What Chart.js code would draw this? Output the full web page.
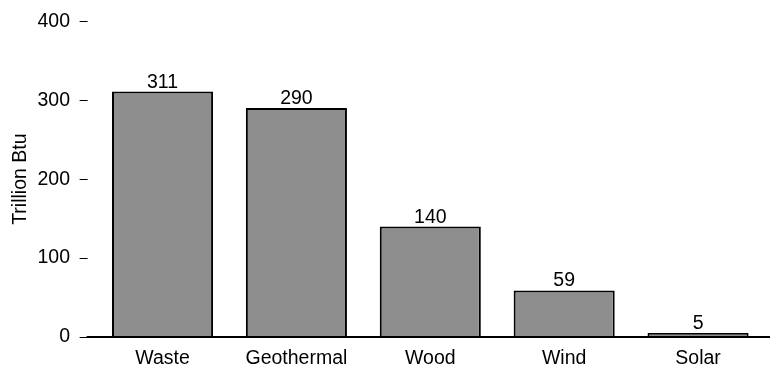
<!DOCTYPE html>
<html>
<head>
<meta charset="utf-8">
<title>Renewable energy by source</title>
<script src="https://cdn.jsdelivr.net/npm/chart.js@4/dist/chart.umd.min.js"></script>
<style>
   html, body { margin: 0; padding: 0; background: #ffffff; }
   #wrap { position: relative; width: 770px; height: 368px; }
</style>
</head>
<body>
<div id="wrap"><canvas id="energyChart"></canvas></div>
<script>
// chart data
var categories = ['Waste', 'Geothermal', 'Wood', 'Wind', 'Solar'];
var values = [311, 290, 140, 59, 5];
var yTicks = [0, 100, 200, 300, 400];
var yTitle = 'Trillion Btu';

var FONT = "'Liberation Sans', Arial, Helvetica, sans-serif";
var FONT_SIZE = 19.5;

/* Writes the value of each bar just above its top edge */
var valueLabels = {
   id: 'valueLabels',
   afterDatasetsDraw: function(chart) {
      var ctx = chart.ctx;
      var meta = chart.getDatasetMeta(0);
      ctx.save();
      ctx.font = FONT_SIZE + 'px ' + FONT;
      ctx.fillStyle = '#000000';
      ctx.textAlign = 'center';
      ctx.textBaseline = 'alphabetic';
      meta.data.forEach(function(bar, i) {
         ctx.fillText(String(values[i]), bar.x, bar.y - 4);
      });
      ctx.restore();
   }
};

/* Baseline at zero, running a bit left of the plot and out to the edge */
var baseLine = {
   id: 'baseLine',
   afterDatasetsDraw: function(chart) {
      var ctx = chart.ctx;
      var y = chart.scales.y.getPixelForValue(0);
      ctx.save();
      ctx.strokeStyle = '#000000';
      ctx.lineWidth = 2;
      ctx.beginPath();
      ctx.moveTo(chart.chartArea.left - 9, y);
      ctx.lineTo(chart.width, y);
      ctx.stroke();
      ctx.restore();
   }
};

var energyChart = new Chart(document.getElementById('energyChart'), {
   type: 'bar',
   data: {
      labels: categories,
      datasets: [{
         data: values,
         backgroundColor: '#8e8e8e',
         borderColor: '#000000',
         borderWidth: 2,
         borderSkipped: 'start',
         barPercentage: 0.755,
         categoryPercentage: 1
      }]
   },
   options: {
      responsive: true,
      maintainAspectRatio: false,
      animation: false,
      layout: { padding: { top: 19, right: 5, left: 0, bottom: 0 } },
      plugins: {
         legend: { display: false },
         tooltip: { enabled: false }
      },
      scales: {
         x: {
            grid: { display: false, drawTicks: false },
            border: { display: false },
            ticks: {
               color: '#000000',
               font: { family: FONT, size: FONT_SIZE },
               padding: 10,
               maxRotation: 0
            },
            afterFit: function(scale) { scale.height = 31; }
         },
         y: {
            min: 0,
            max: 400,
            afterBuildTicks: function(scale) {
               scale.ticks = yTicks.map(function(v) { return { value: v }; });
            },
            // tick marks sit left of a small gap before the plot
            grid: {
               drawOnChartArea: false,
               tickLength: 16,
               tickColor: '#000000',
               tickWidth: 1,
               tickBorderDash: [8, 20]
            },
            border: { display: false },
            ticks: {
               color: '#000000',
               font: { family: FONT, size: FONT_SIZE },
               padding: 9.6
            },
            title: {
               display: true,
               text: yTitle,
               color: '#000000',
               font: { family: FONT, size: FONT_SIZE },
               padding: { top: 9, bottom: 0 }
            },
            afterFit: function(scale) { scale.width = 95.6; }
         }
      }
   },
   plugins: [valueLabels, baseLine]
});
</script>
</body>
</html>
